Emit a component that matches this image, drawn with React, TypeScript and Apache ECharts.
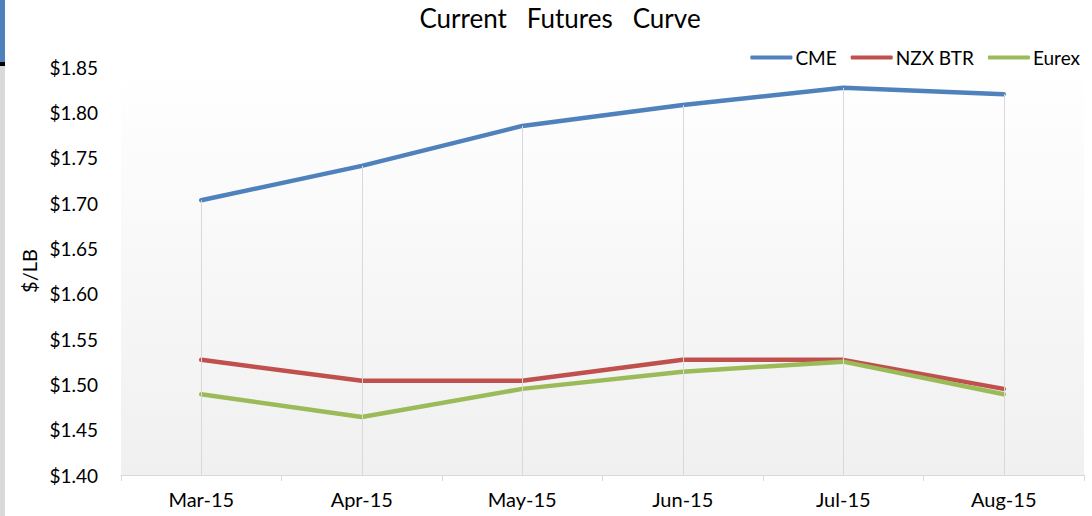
import React, { useEffect, useRef } from "react";
import * as echarts from "echarts";

const categories = ["Mar-15", "Apr-15", "May-15", "Jun-15", "Jul-15", "Aug-15"];
const cme = [1.703, 1.741, 1.785, 1.808, 1.827, 1.82];
const nzx = [1.527, 1.504, 1.504, 1.527, 1.527, 1.495];
const eurex = [1.489, 1.464, 1.495, 1.514, 1.525, 1.489];
const yMin = 1.4;
const yMax = 1.85;
const yStep = 0.05;

const FONT = "Lato, 'Open Sans', sans-serif";

export default function App() {
  const ref = useRef<HTMLDivElement>(null);
  useEffect(() => {
    document.body.style.margin = "0";
    const chart = echarts.init(ref.current!, null, { renderer: "svg" });
    const dropLines = categories.map((c, i) => [
      { coord: [c, Math.max(cme[i], nzx[i], eurex[i])] },
      { coord: [c, yMin] },
    ]);
    chart.setOption({
      animation: false,
      backgroundColor: "#ffffff",
      title: {
        text: "Current   Futures   Curve",
        left: 555,
        textAlign: "center",
        top: 0,
        textStyle: { fontFamily: FONT, fontSize: 26, fontWeight: "normal", color: "#000" },
      },
      legend: {
        data: ["CME", "NZX BTR", "Eurex"],
        right: 7,
        top: 43,
        itemWidth: 42,
        itemHeight: 4,
        itemGap: 14,
        icon: "roundRect",
        textStyle: { fontFamily: FONT, fontSize: 19, color: "#000", padding: [0, 0, 0, -2] },
      },
      grid: {
        left: 121,
        right: 8,
        top: 67,
        bottom: 41,
        show: true,
        borderWidth: 0,
        backgroundColor: {
          type: "linear",
          x: 0, y: 0, x2: 0, y2: 1,
          colorStops: [
            { offset: 0, color: "#ffffff" },
            { offset: 1, color: "#f0f0f0" },
          ],
        },
      },
      xAxis: {
        type: "category",
        data: categories,
        boundaryGap: true,
        axisLine: { lineStyle: { color: "#d9d9d9", width: 1 } },
        axisTick: { show: true, length: 6, lineStyle: { color: "#d9d9d9" } },
        axisLabel: { fontFamily: FONT, fontSize: 20, color: "#000", margin: 14 },
        splitLine: { show: false },
      },
      yAxis: {
        type: "value",
        min: yMin,
        max: yMax,
        interval: yStep,
        name: "$/LB",
        nameLocation: "middle",
        nameGap: 80,
        nameRotate: 90,
        nameTextStyle: { fontFamily: FONT, fontSize: 20, color: "#000" },
        axisLine: { show: false },
        axisTick: { show: false },
        splitLine: { show: false },
        axisLabel: {
          fontFamily: FONT,
          fontSize: 19,
          color: "#000",
          margin: 23,
          formatter: (v: number) => "$" + v.toFixed(2),
        },
      },
      series: [
        {
          name: "drop",
          type: "line",
          data: [],
          z: 1,
          silent: true,
          markLine: {
            symbol: "none",
            silent: true,
            label: { show: false },
            lineStyle: { color: "#d9d9d9", width: 1, type: "solid" },
            data: dropLines,
          },
        },
        {
          name: "CME",
          type: "line",
          data: cme,
          z: 3,
          showSymbol: false,
          symbol: "none",
          lineStyle: { color: "#4f81bd", width: 4.5, cap: "round", join: "round" },
          itemStyle: { color: "#4f81bd" },
        },
        {
          name: "NZX BTR",
          type: "line",
          data: nzx,
          z: 3,
          showSymbol: false,
          symbol: "none",
          lineStyle: { color: "#c0504d", width: 4.5, cap: "round", join: "round" },
          itemStyle: { color: "#c0504d" },
        },
        {
          name: "Eurex",
          type: "line",
          data: eurex,
          z: 4,
          showSymbol: false,
          symbol: "none",
          lineStyle: { color: "#9bbb59", width: 4.5, cap: "round", join: "round" },
          itemStyle: { color: "#9bbb59" },
        },
      ],
      graphic: [
        { type: "rect", left: 0, top: 0, shape: { width: 5, height: 62 }, style: { fill: "#4f81bd" } },
        { type: "rect", left: 0, top: 62, shape: { width: 5, height: 4 }, style: { fill: "#000" } },
        { type: "rect", left: 0, top: 66, shape: { width: 5, height: 450 }, style: { fill: "#d9d9d9" } },
      ],
    });
    return () => chart.dispose();
  }, []);
  return <div ref={ref} style={{ width: 1092, height: 516 }} />;
}
